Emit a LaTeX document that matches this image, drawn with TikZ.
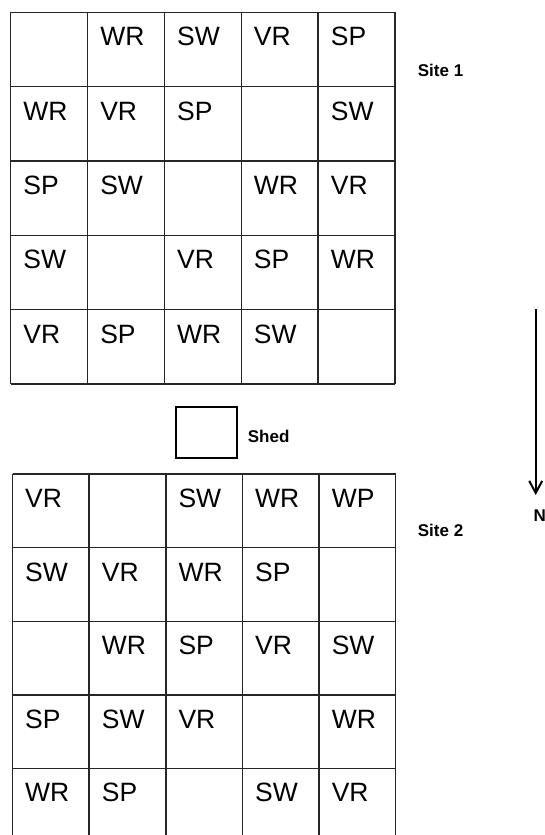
\documentclass[tikz,border=0pt]{standalone}
\usepackage{fontspec}
\setmainfont{Liberation Sans}
\usetikzlibrary{arrows.meta,positioning}

\begin{document}
\begin{tikzpicture}[x=1pt,y=-1pt,
    plotline/.style={draw=black!85,line width=1.4pt},
    crop/.style={anchor=base west,inner sep=0pt,font=\fontsize{26.5}{30}\selectfont},
    sitelabel/.style={anchor=west,inner sep=0pt,font=\fontsize{17}{20}\selectfont\bfseries}]
  \useasboundingbox (0,0) rectangle (545,835);
  \clip (0,0) rectangle (545,835);
  % site 1 grid
  \foreach \i in {0,...,5} {
    \draw[plotline] (10.7+\i*76.86,12.3) -- (10.7+\i*76.86,384);
    \draw[plotline] (10.7,12.3+\i*74.34) -- (395,12.3+\i*74.34);
  }
  \foreach \r/\c/\t in {1/2/WR,1/3/SW,1/4/VR,1/5/SP,
                        2/1/WR,2/2/VR,2/3/SP,2/5/SW,
                        3/1/SP,3/2/SW,3/4/WR,3/5/VR,
                        4/1/SW,4/3/VR,4/4/SP,4/5/WR,
                        5/1/VR,5/2/SP,5/3/WR,5/4/SW}
    \node[crop] (s1-\r-\c) at (10.7+\c*76.86-76.86+12.5,12.3+\r*74.34-74.34+33.5) {\t};
  \node[sitelabel] (site1) at (417.7,70) {Site 1};
  % shed
  \node[draw=black,line width=2pt,minimum width=61pt,minimum height=51pt,inner sep=0pt] (shed) at (206.5,432.5) {};
  \node[sitelabel] (shedlabel) at (247.7,436) {Shed};
  % site 2 grid
  \foreach \i in {0,...,5} {
    \draw[plotline] (12.5+\i*76.65,474) -- (12.5+\i*76.65,842);
    \draw[plotline] (12.5,474+\i*73.6) -- (395.8,474+\i*73.6);
  }
  \foreach \r/\c/\t in {1/1/VR,1/3/SW,1/4/WR,1/5/WP,
                        2/1/SW,2/2/VR,2/3/WR,2/4/SP,
                        3/2/WR,3/3/SP,3/4/VR,3/5/SW,
                        4/1/SP,4/2/SW,4/3/VR,4/5/WR,
                        5/1/WR,5/2/SP,5/4/SW,5/5/VR}
    \node[crop] (s2-\r-\c) at (12.5+\c*76.65-76.65+12.5,474+\r*73.6-73.6+33.5) {\t};
  \node[sitelabel] (site2) at (417.7,530) {Site 2};
  % north arrow
  \coordinate (ntop) at (535.7,309);
  \coordinate (ntip) at (535.7,495);
  \node[sitelabel] (north) at (533.3,516) {N};
  \draw[line width=2pt,-{Straight Barb[length=12pt,width=13pt,line width=2pt]}] (ntop) -- (ntip);
\end{tikzpicture}
\end{document}
